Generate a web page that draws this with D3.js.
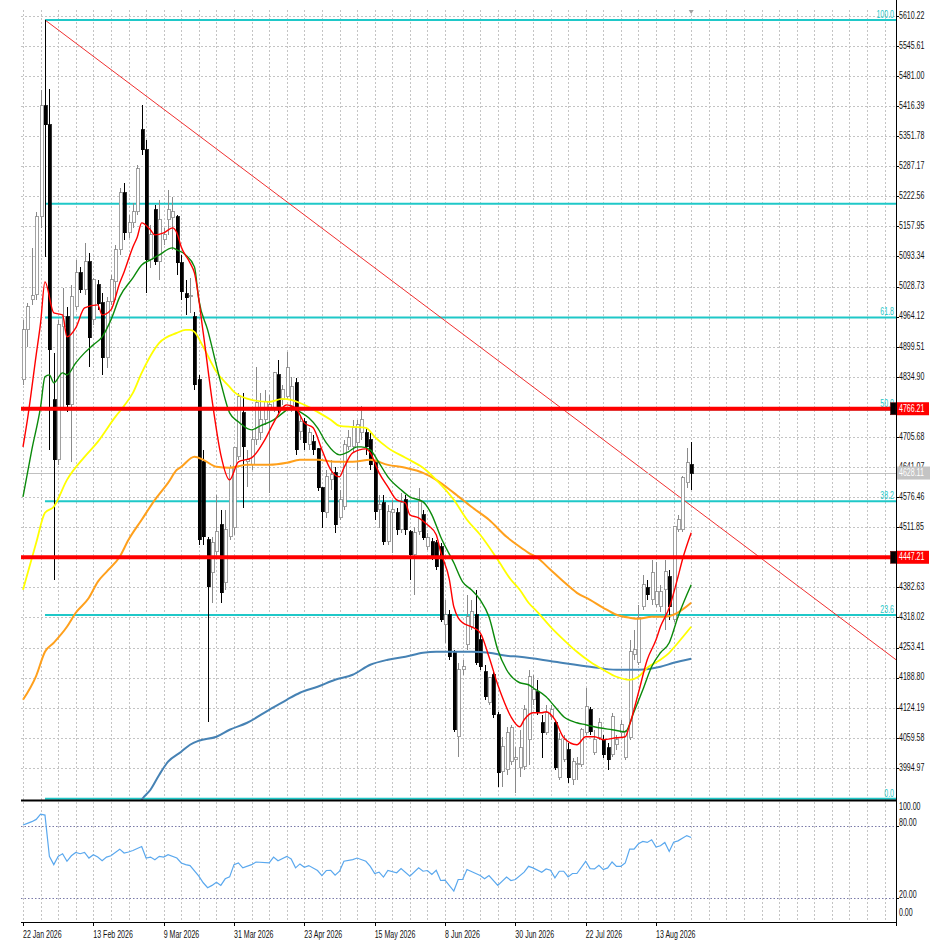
<!DOCTYPE html>
<html>
<head>
<meta charset="utf-8">
<script src="https://cdn.jsdelivr.net/npm/d3@7"></script>
<style>
  html, body { margin: 0; padding: 0; background: #fff; }
  svg { display: block; }
  text { font-family: "Liberation Sans", Arial, sans-serif; font-size: 11px; }
</style>
</head>
<body>
<div id="chart"></div>
<script>
// daily bars, 22 Jan 2026 .. 25 Aug 2026 (weekdays)
const opens = [4828.2,4935.6,5000.0,5010.7,5178.2,5416.5,5375.7,4785.3,4656.5,4942.0,
  4963.5,4774.6,4985.0,5058.0,5021.5,5081.6,4957.1,5032.2,4993.6,4875.5,
  4995.7,5038.6,5107.3,5229.7,5143.8,5165.3,5188.9,5365.0,5322.0,5085.9,
  5193.2,5081.6,5128.8,5171.8,5176.1,5178.2,5079.4,5012.9,5006.4,4963.5,
  4828.2,4652.2,4484.7,4413.9,4459.0,4516.9,4392.4,4491.2,4510.5,4662.9,
  4757.4,4652.2,4645.7,4699.4,4714.4,4742.4,4763.8,4768.1,4839.0,4785.3,
  4791.7,4770.3,4821.8,4716.6,4738.1,4688.7,4695.1,4680.1,4596.4,4542.7,
  4613.5,4628.6,4532.0,4555.6,4684.4,4684.4,4693.0,4714.4,4714.4,4699.4,
  4650.0,4549.1,4564.2,4480.4,4542.7,4542.7,4506.2,4570.6,4501.9,4452.5,
  4501.9,4538.4,4469.7,4480.4,4478.3,4469.7,4302.2,4323.7,4242.1,4061.8,
  4205.6,4259.3,4297.9,4323.7,4270.0,4201.3,4134.8,4194.9,4109.0,3986.6,
  3990.9,4008.1,4012.4,3995.2,3997.4,4055.3,4141.2,4158.4,4091.8,4070.3,
  4104.7,4091.8,3973.7,4012.4,4033.8,3969.4,4001.6,4001.6,4070.3,4119.7,
  4027.4,4059.6,4055.3,4038.1,4023.1,4044.6,4070.3,4016.7,4059.6,4237.8,
  4220.6,4340.9,4381.7,4355.9,4345.2,4340.9,4377.4,4405.3,4313.0,4506.2,
  4506.2,4607.1,4645.7];
const highs = [4957.1,4993.6,5111.6,5188.9,5450.9,5601.2,5453.0,4886.2,4957.1,5025.8,
  4985.0,5032.2,5085.9,5070.9,5122.4,5100.9,5047.2,5042.9,5015.0,5006.4,
  5053.7,5118.1,5240.5,5251.2,5182.5,5208.3,5289.8,5418.7,5343.5,5161.0,
  5204.0,5214.7,5154.6,5236.2,5221.1,5182.5,5096.6,5042.9,5047.2,4974.2,
  4839.0,4677.9,4491.2,4491.2,4581.3,4549.1,4549.1,4645.7,4682.2,4800.3,
  4800.3,4677.9,4720.9,4856.2,4800.3,4806.8,4796.0,4845.4,4871.2,4817.5,
  4888.4,4834.7,4832.5,4753.1,4746.7,4725.2,4710.2,4682.2,4598.5,4635.0,
  4656.5,4641.5,4592.1,4699.4,4720.9,4742.4,4742.4,4772.4,4725.2,4714.4,
  4656.5,4581.3,4581.3,4559.9,4570.6,4553.4,4585.6,4581.3,4506.2,4512.6,
  4596.4,4549.1,4499.7,4489.0,4484.7,4478.3,4355.9,4334.4,4248.5,4220.6,
  4227.1,4366.6,4355.9,4377.4,4280.8,4216.3,4190.6,4205.6,4115.4,4061.8,
  4083.2,4087.5,4040.3,4076.8,4130.5,4205.6,4194.9,4184.1,4109.0,4130.5,
  4130.5,4098.3,4070.3,4066.1,4048.9,4016.7,4018.8,4081.1,4167.0,4126.2,
  4076.8,4102.6,4066.1,4048.9,4113.3,4066.1,4098.3,4076.8,4270.0,4291.5,
  4345.2,4409.6,4398.8,4441.8,4437.5,4388.1,4441.8,4420.3,4512.6,4538.4,
  4622.1,4682.2,4695.1];
const lows = [4817.5,4899.1,4989.3,5000.0,5154.6,5092.3,4677.9,4398.8,4645.7,4763.8,
  4759.5,4652.2,4978.5,5015.0,5010.7,4856.2,4946.3,4978.5,4839.0,4854.0,
  4989.3,5000.0,5096.6,5128.8,5133.1,5154.6,5182.5,5311.3,5015.0,5068.7,
  5075.1,5042.9,5118.1,5139.6,5107.3,5053.7,5000.0,4967.8,4972.1,4806.8,
  4474.0,4474.0,4094.0,4349.5,4452.5,4349.5,4377.4,4484.7,4495.5,4656.5,
  4553.4,4598.5,4635.0,4688.7,4699.4,4731.6,4585.6,4759.5,4753.1,4774.6,
  4785.3,4759.5,4667.2,4699.4,4677.9,4677.9,4667.2,4589.9,4510.5,4532.0,
  4592.1,4499.7,4527.7,4549.1,4677.9,4673.7,4635.0,4699.4,4667.2,4635.0,
  4527.7,4510.5,4474.0,4474.0,4456.8,4495.5,4499.7,4495.5,4398.8,4366.6,
  4495.5,4484.7,4463.2,4441.8,4420.3,4308.7,4263.6,4227.1,4072.5,4018.8,
  4194.9,4248.5,4291.5,4216.3,4205.6,4141.2,4130.5,4102.6,3954.4,3954.4,
  3980.2,4001.6,3941.5,3975.9,3990.9,4001.6,4130.5,4109.0,4016.7,4066.1,
  4098.3,3990.9,3969.4,4008.1,3963.0,3958.7,3969.4,3997.4,4066.1,4066.1,
  4023.1,4055.3,4016.7,3990.9,4018.8,4033.8,4061.8,4012.4,4055.3,4227.1,
  4216.3,4334.4,4355.9,4345.2,4340.9,4330.1,4291.5,4313.0,4308.7,4501.9,
  4501.9,4596.4,4592.1];
const closes = [4935.6,4985.0,5008.6,5178.2,5416.5,5375.7,4892.6,4656.5,4946.3,4963.5,
  4774.6,5006.4,5058.0,5021.5,5081.6,4918.4,5042.9,4991.4,4875.5,4995.7,
  5042.9,5107.3,5229.7,5143.8,5165.3,5188.9,5281.3,5322.0,5085.9,5139.6,
  5081.6,5171.8,5139.6,5193.2,5188.9,5079.4,5017.2,5004.3,5008.6,4817.5,
  4484.7,4491.2,4383.8,4478.3,4501.9,4370.9,4506.2,4639.3,4682.2,4791.7,
  4684.4,4656.5,4699.4,4778.9,4742.4,4781.0,4774.6,4843.3,4763.8,4806.8,
  4854.0,4813.2,4677.9,4738.1,4693.0,4714.4,4677.9,4596.4,4544.8,4620.0,
  4624.3,4516.9,4570.6,4688.7,4703.7,4725.2,4731.6,4742.4,4684.4,4645.7,
  4544.8,4559.9,4480.4,4544.8,4549.1,4506.2,4564.2,4506.2,4452.5,4499.7,
  4566.3,4489.0,4489.0,4448.2,4426.8,4313.0,4323.7,4233.5,4076.8,4205.6,
  4212.1,4319.4,4330.1,4220.6,4212.1,4147.6,4188.4,4109.0,3984.5,4040.3,
  4070.3,4081.1,4016.7,4038.1,4119.7,4190.6,4162.7,4115.4,4070.3,4113.3,
  4119.7,3995.2,4055.3,4055.3,3973.7,4008.1,4003.8,4076.8,4126.2,4072.5,
  4055.3,4091.8,4023.1,4012.4,4104.7,4055.3,4087.5,4072.5,4244.3,4248.5,
  4317.3,4388.1,4366.6,4413.9,4373.1,4373.1,4416.0,4340.9,4512.6,4527.7,
  4617.8,4650.0,4628.11];

// moving averages, [bar, price]
const maRed = [[0,4684.4],[1,4742.4],[3,4881.9],[4,4950.6],[5,5038.6],[7,4972.1],[9,4967.8],[10,4920.6],[12,4939.9],[14,4982.8],[17,4989.3],[18,4967.8],[20,4978.5],[22,5036.5],[23,5060.1],[25,5113.8],[26,5135.3],[27,5165.3],[29,5150.3],[30,5139.6],[32,5143.8],[34,5154.6],[35,5143.8],[36,5113.8],[38,5079.4],[39,5058.0],[41,4929.1],[43,4785.3],[45,4667.2],[47,4613.5],[49,4652.2],[52,4660.8],[55,4699.4],[57,4735.9],[60,4774.6],[62,4768.1],[64,4735.9],[66,4725.2],[68,4677.9],[70,4635.0],[72,4620.0],[73,4639.3],[75,4671.5],[78,4680.1],[79,4671.5],[81,4628.6],[83,4598.5],[85,4570.6],[87,4564.1],[88,4538.4],[90,4532.0],[92,4516.9],[94,4495.5],[95,4459.0],[97,4398.8],[98,4340.9],[100,4306.5],[102,4297.9],[104,4285.0],[106,4233.5],[108,4173.4],[109,4147.6],[111,4104.7],[113,4083.2],[114,4098.3],[116,4113.3],[118,4113.3],[119,4115.4],[121,4098.3],[123,4059.6],[126,4044.6],[128,4061.8],[130,4061.8],[132,4055.3],[135,4059.6],[137,4061.8],[138,4087.5],[140,4156.2],[142,4227.1],[144,4270.0],[145,4297.9],[147,4338.7],[149,4405.3],[150,4441.8],[152,4499.7]];
const maGreen = [[0,4577.0],[2,4677.9],[4,4770.3],[5,4834.7],[6,4839.0],[7,4821.8],[9,4843.3],[10,4839.0],[12,4864.7],[14,4886.2],[16,4903.4],[18,4920.6],[20,4957.1],[22,5006.4],[25,5047.2],[27,5075.1],[29,5085.9],[31,5096.6],[34,5111.6],[35,5107.3],[37,5096.6],[39,5070.9],[40,5000.0],[42,4935.6],[45,4821.8],[47,4757.4],[49,4738.1],[52,4720.9],[54,4729.5],[57,4742.4],[60,4763.8],[61,4770.3],[63,4759.5],[65,4746.7],[67,4725.2],[69,4693.0],[72,4667.2],[74,4673.7],[76,4684.4],[77,4684.4],[79,4677.9],[81,4650.0],[83,4620.0],[86,4592.1],[88,4577.0],[91,4566.3],[93,4538.4],[95,4491.2],[98,4435.3],[100,4394.5],[102,4377.4],[104,4355.9],[106,4319.4],[108,4248.5],[110,4205.6],[113,4177.7],[115,4173.4],[116,4167.0],[119,4147.6],[121,4126.2],[123,4104.7],[126,4091.8],[128,4087.5],[131,4081.1],[134,4076.8],[137,4072.5],[139,4115.4],[141,4162.7],[143,4212.1],[145,4242.1],[147,4263.6],[149,4319.4],[152,4388.1]];
const maYellow = [[0,4377.4],[3,4478.3],[5,4542.7],[7,4555.6],[10,4613.5],[14,4662.9],[17,4695.1],[21,4748.8],[23,4772.4],[25,4800.3],[27,4843.3],[31,4907.7],[35,4929.1],[37,4935.6],[38,4935.6],[39,4931.3],[41,4899.1],[44,4845.4],[47,4813.2],[48,4802.5],[52,4785.3],[56,4781.0],[59,4787.4],[61,4785.3],[64,4774.6],[67,4759.5],[70,4742.4],[72,4729.5],[75,4727.3],[78,4725.2],[80,4705.9],[83,4682.2],[87,4660.8],[91,4639.3],[94,4613.5],[98,4570.6],[101,4527.7],[104,4495.5],[108,4441.8],[111,4398.8],[113,4377.4],[115,4349.5],[117,4330.1],[120,4297.9],[123,4270.0],[126,4244.3],[129,4222.8],[132,4205.6],[135,4190.6],[138,4184.1],[140,4190.6],[142,4209.9],[145,4227.1],[147,4242.1],[149,4263.6],[152,4297.9]];
const maOrange = [[0,4141.2],[3,4192.7],[5,4244.3],[7,4263.6],[10,4297.9],[12,4328.0],[15,4360.2],[17,4394.5],[19,4416.0],[22,4448.2],[24,4484.7],[27,4527.7],[30,4570.6],[33,4607.1],[35,4635.0],[36,4641.5],[39,4662.9],[41,4656.5],[44,4641.5],[47,4639.3],[51,4645.7],[56,4645.7],[60,4650.0],[63,4656.5],[67,4656.5],[71,4652.2],[75,4652.2],[79,4656.5],[83,4645.7],[87,4639.3],[91,4628.6],[94,4613.5],[98,4585.6],[102,4555.6],[106,4527.7],[110,4491.2],[113,4469.7],[115,4456.8],[117,4446.1],[120,4420.3],[123,4394.5],[126,4370.9],[129,4355.9],[132,4338.7],[135,4323.7],[138,4317.3],[140,4315.1],[143,4319.4],[146,4319.4],[148,4323.7],[152,4349.5]];
const maBlue = [[26,3909.3],[27,3926.5],[29,3948.0],[31,3980.2],[33,4008.1],[36,4029.6],[38,4044.6],[40,4053.2],[44,4061.8],[47,4076.8],[51,4091.8],[56,4119.7],[60,4141.2],[63,4156.2],[67,4169.1],[71,4184.1],[75,4194.9],[79,4216.3],[83,4227.1],[87,4233.5],[91,4242.1],[94,4244.3],[98,4244.3],[102,4244.3],[106,4242.1],[110,4235.7],[113,4233.5],[121,4222.8],[129,4212.1],[135,4205.6],[140,4205.6],[145,4212.1],[148,4220.6],[152,4229.2]];

// RSI, [bar, value]
const rsi = [[0,80.8],[1,82.2],[2,83.6],[3,85.5],[4,89.9],[5,89.1],[6,54.7],[7,47.8],[8,54.7],[9,56.9],[10,50.6],[11,55.2],[12,58.0],[13,56.9],[14,58.0],[15,53.3],[16,56.1],[17,54.1],[18,51.1],[19,54.1],[20,55.2],[22,60.7],[23,57.5],[24,58.3],[25,59.6],[27,62.9],[28,53.3],[29,54.1],[30,51.9],[31,54.7],[32,54.1],[33,56.1],[35,53.3],[36,49.2],[37,47.8],[38,47.0],[40,38.2],[41,32.7],[42,28.6],[43,30.5],[44,33.2],[45,30.5],[46,36.0],[47,37.6],[48,47.8],[49,49.2],[50,45.1],[52,47.8],[53,50.0],[56,49.2],[57,54.1],[58,51.1],[60,54.7],[61,52.5],[62,45.1],[63,48.4],[64,45.6],[65,47.0],[67,42.9],[68,38.7],[69,42.9],[70,43.1],[71,39.0],[72,42.3],[73,50.6],[75,52.0],[76,53.3],[78,50.6],[79,46.4],[80,40.4],[81,41.5],[82,37.4],[83,42.9],[85,41.0],[86,44.5],[88,38.2],[90,45.1],[91,42.3],[92,42.9],[93,39.6],[94,43.1],[95,34.6],[96,34.9],[98,25.8],[99,35.4],[100,35.4],[101,43.7],[103,40.4],[104,38.7],[105,36.0],[106,38.7],[108,30.5],[110,37.4],[111,34.6],[112,35.4],[114,41.5],[115,46.4],[116,45.1],[118,41.5],[119,44.2],[120,43.1],[121,36.8],[122,42.3],[123,42.3],[124,37.6],[125,40.4],[126,40.4],[128,50.6],[129,44.5],[130,44.2],[131,47.3],[132,43.7],[133,45.1],[134,50.0],[135,46.4],[136,46.4],[137,49.2],[138,60.7],[139,60.7],[140,65.2],[141,67.1],[142,66.3],[143,68.5],[144,62.4],[145,63.5],[146,66.3],[147,58.8],[148,66.5],[149,67.6],[151,72.0],[152,70.4]];

const priceTicks = [3994.97,4059.58,4124.19,4188.80,4253.41,4318.02,4382.63,4447.24,4511.85,4576.46,4641.07,4705.68,4770.29,4834.90,4899.51,4964.12,5028.73,5093.34,5157.95,5222.56,5287.17,5351.78,5416.39,5481.00,5545.61,5610.22];
const rsiTicks = [100, 80, 20, 0];
const rsiLevels = [80, 20];
const dateLabels = ["22 Jan 2026","13 Feb 2026","9 Mar 2026","31 Mar 2026","23 Apr 2026","15 May 2026","8 Jun 2026","30 Jun 2026","22 Jul 2026","13 Aug 2026"];
const dateLabelBars = [0,16,32,48,64,80,96,112,128,144];

const fibLevels = [0, 23.6, 38.2, 50, 61.8, 76.4, 100];
const fibLabels = ["0.0","23.6","38.2","50.0","61.8","","100.0"];
const fibLow = 3928.5, fibHigh = 5601.2, fibStartBar = 5;
const keyLevels = [4766.21, 4447.21];
const trendLine = [[5, 5601.2], [198.6, 4227.1]];

const box = { left: 21, right: 896, top: 10, bottom: 800, rsiTop: 802, rsiBottom: 922 };

function makeScales(d3) {
    const x = d3.scaleLinear().domain([0, 152]).range([23, 691.2]);
    const y = d3.scaleLinear().domain([3925.9, 5618.3]).range([800, 12]);
    const r = d3.scaleLinear().domain([0, 100]).range([922, 802]);
    return { x, y, r };
}

function label(g, x, y, str, fill, anchor, baseline) {
    return g.append("text")
        .attr("transform", `translate(${x},${y}) scale(0.64,1)`)
        .attr("text-anchor", anchor || "start")
        .attr("dominant-baseline", baseline || "middle")
        .attr("fill", fill || "#111")
        .text(str);
}

function drawGrid(svg, s) {
    const g = svg.append("g").attr("stroke", "#c4c4c4").attr("stroke-dasharray", "2,2").attr("shape-rendering", "crispEdges");
    priceTicks.forEach(v => {
        const yy = Math.round(s.y(v)) + 0.5;
        g.append("line").attr("x1", box.left).attr("x2", box.right).attr("y1", yy).attr("y2", yy);
    });
    for (let b = 0; s.x(b) < box.right - 2; b += 4) {
        const xx = Math.round(s.x(b)) + 0.5;
        g.append("line").attr("x1", xx).attr("x2", xx).attr("y1", box.top).attr("y2", box.bottom);
        g.append("line").attr("x1", xx).attr("x2", xx).attr("y1", box.rsiTop).attr("y2", box.rsiBottom);
    }
}

function drawCandles(main, s) {
    const bars = opens.map((o, i) => ({ i, o, h: highs[i], l: lows[i], c: closes[i] }));
    const g = main.append("g").attr("shape-rendering", "crispEdges");
    const bar = g.selectAll("g").data(bars).enter().append("g");
    bar.append("line")
        .attr("x1", d => Math.round(s.x(d.i)) + 0.5)
        .attr("x2", d => Math.round(s.x(d.i)) + 0.5)
        .attr("y1", d => s.y(d.h))
        .attr("y2", d => s.y(d.l))
        .attr("stroke", d => d.c >= d.o ? "#8a8a8a" : "#000");
    bar.append("rect")
        .attr("x", d => Math.round(s.x(d.i)) - 1)
        .attr("width", 3)
        .attr("y", d => s.y(Math.max(d.o, d.c)))
        .attr("height", d => Math.max(1, Math.abs(s.y(d.o) - s.y(d.c))))
        .attr("fill", d => d.c >= d.o ? "#fff" : "#000")
        .attr("stroke", d => d.c >= d.o ? "#8a8a8a" : "#000")
        .attr("stroke-width", 0.8);
}

function drawMAs(d3, main, s) {
    const line = d3.line().x(d => s.x(d[0])).y(d => s.y(d[1])).curve(d3.curveMonotoneX);
    const series = [
        [maBlue, "#4682b4", 2],
        [maOrange, "#ffa01c", 2],
        [maYellow, "#ffff00", 1.8],
        [maGreen, "#0b8a0b", 1.4],
        [maRed, "#ff0000", 1.4],
    ];
    series.forEach(([data, color, w]) => {
        main.append("path").datum(data)
            .attr("d", line)
            .attr("fill", "none")
            .attr("stroke", color)
            .attr("stroke-width", w);
    });
}

function drawLevels(main, svg, s) {
    const x0 = s.x(fibStartBar);
    fibLevels.forEach((lv, k) => {
        const p = fibLow + lv / 100 * (fibHigh - fibLow);
        main.append("line")
            .attr("x1", x0).attr("x2", box.right)
            .attr("y1", s.y(p)).attr("y2", s.y(p))
            .attr("stroke", "#1fc8c8").attr("stroke-width", 2);
        if (fibLabels[k]) label(main, 894, s.y(p) - 2, fibLabels[k], "#1fc8c8", "end", "auto");
    });

    // trend line from the January high
    main.append("line")
        .attr("x1", s.x(trendLine[0][0])).attr("y1", s.y(trendLine[0][1]))
        .attr("x2", s.x(trendLine[1][0])).attr("y2", s.y(trendLine[1][1]))
        .attr("stroke", "#f03030").attr("stroke-width", 1);

    // bid line
    const last = closes[closes.length - 1];
    main.append("line")
        .attr("x1", box.left).attr("x2", box.right)
        .attr("y1", Math.round(s.y(last)) + 0.5).attr("y2", Math.round(s.y(last)) + 0.5)
        .attr("stroke", "#c0c0c0").attr("shape-rendering", "crispEdges");
}

function drawKeyLevels(svg, s) {
    const top = svg.append("g").attr("clip-path", "url(#mainClip)");
    keyLevels.forEach(v => {
        const yy = s.y(v);
        top.append("line")
            .attr("x1", box.left).attr("x2", box.right - 5)
            .attr("y1", yy).attr("y2", yy)
            .attr("stroke", "#ff0000").attr("stroke-width", 4);
        svg.append("rect")
            .attr("x", box.right - 5.5).attr("y", yy - 6)
            .attr("width", 5.5).attr("height", 12)
            .attr("fill", "#000").attr("stroke", "#600").attr("stroke-width", 0.6);
    });
}

function drawAxes(svg, s) {
    const g = svg.append("g");
    g.append("line").attr("x1", box.right + 0.5).attr("x2", box.right + 0.5)
        .attr("y1", 0).attr("y2", box.rsiBottom + 4).attr("stroke", "#000");
    g.append("line").attr("x1", box.left).attr("x2", box.right)
        .attr("y1", 800.5).attr("y2", 800.5).attr("stroke", "#000").attr("stroke-width", 2);
    g.append("line").attr("x1", box.left).attr("x2", box.right)
        .attr("y1", box.rsiBottom + 0.5).attr("y2", box.rsiBottom + 0.5).attr("stroke", "#000");

    // tick labels hidden behind the level labels are left out
    const covered = v => keyLevels.some(k => Math.abs(s.y(k) - s.y(v)) < 8);
    priceTicks.forEach(v => {
        const yy = Math.round(s.y(v)) + 0.5;
        g.append("line").attr("x1", box.right).attr("x2", box.right + 3).attr("y1", yy).attr("y2", yy).attr("stroke", "#000");
        if (!covered(v)) label(g, box.right + 3, s.y(v), v.toFixed(2));
    });

    rsiTicks.forEach(v => {
        const yy = Math.min(Math.max(s.r(v) - 3, 807), 913);
        if (v !== 100 && v !== 0) {
            g.append("line").attr("x1", box.right).attr("x2", box.right + 3)
                .attr("y1", Math.round(s.r(v)) + 0.5).attr("y2", Math.round(s.r(v)) + 0.5).attr("stroke", "#000");
        }
        label(g, box.right + 3, yy, v.toFixed(2));
    });

    dateLabelBars.forEach((b, k) => {
        const xx = Math.round(s.x(b)) + 0.5;
        g.append("line").attr("x1", xx).attr("x2", xx).attr("y1", box.rsiBottom).attr("y2", box.rsiBottom + 4).attr("stroke", "#000");
        label(g, s.x(b), 938, dateLabels[k], "#111", "start", "auto");
    });

    // price labels for the key levels and the last price
    keyLevels.forEach(v => {
        const yy = s.y(v);
        g.append("rect").attr("x", box.right + 1).attr("y", yy - 6.5).attr("width", 32).attr("height", 13).attr("fill", "#ff0000");
        label(g, box.right + 3, yy, v.toFixed(2), "#fff");
    });
    const last = closes[closes.length - 1];
    g.append("rect").attr("x", box.right + 1).attr("y", s.y(last) - 6.5).attr("width", 33).attr("height", 13).attr("fill", "#c4c4c4");
    label(g, box.right + 3, s.y(last), last.toFixed(2), "#fff");

    // chart shift marker
    const mx = s.x(152);
    g.append("path").attr("d", `M${mx - 2.5},10 L${mx + 2.5},10 L${mx},14 Z`).attr("fill", "#a0a0a0");
}

function drawRsi(d3, svg, s) {
    const g = svg.append("g");
    rsiLevels.forEach(v => {
        g.append("line").attr("x1", box.left).attr("x2", box.right)
            .attr("y1", Math.round(s.r(v)) + 0.5).attr("y2", Math.round(s.r(v)) + 0.5)
            .attr("stroke", "#7a7aa8").attr("stroke-dasharray", "1.5,2");
    });
    const line = d3.line().x(d => s.x(d[0])).y(d => s.r(d[1]));
    g.append("path").datum(rsi)
        .attr("d", line)
        .attr("fill", "none")
        .attr("stroke", "#5aa8ee")
        .attr("stroke-width", 1.2);
}

function draw(d3, container) {
    const s = makeScales(d3);
    const svg = d3.select(container).append("svg")
        .attr("width", 948).attr("height", 946)
        .style("background", "#fff");

    svg.append("clipPath").attr("id", "mainClip").append("rect")
        .attr("x", box.left).attr("y", box.top)
        .attr("width", box.right - box.left).attr("height", box.bottom - box.top);

    drawGrid(svg, s);
    const main = svg.append("g").attr("clip-path", "url(#mainClip)");
    drawLevels(main, svg, s);
    drawCandles(main, s);
    drawMAs(d3, main, s);
    drawKeyLevels(svg, s);
    drawRsi(d3, svg, s);
    drawAxes(svg, s);
}

draw(d3, document.getElementById("chart"));
</script>
</body>
</html>
